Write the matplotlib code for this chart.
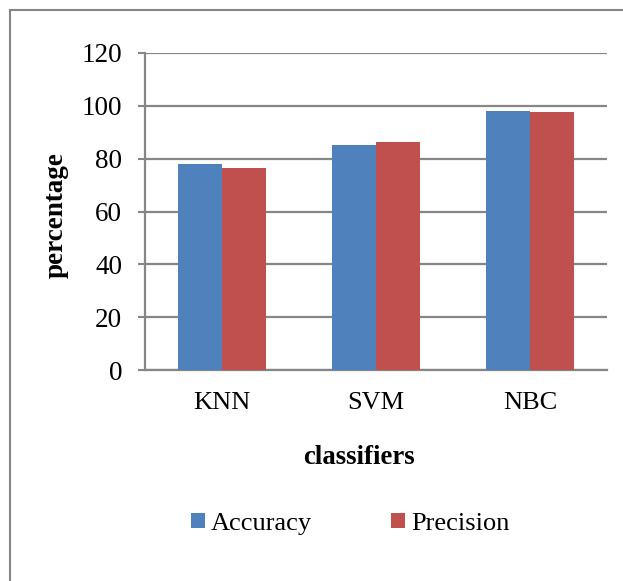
import matplotlib
matplotlib.use("Agg")
import matplotlib.pyplot as plt
from matplotlib.patches import Rectangle
import numpy as np

classifiers = ["KNN", "SVM", "NBC"]
accuracy = [78.1, 85.3, 98.0]
precision = [76.3, 86.4, 97.5]
yticks = [0, 20, 40, 60, 80, 100, 120]

plt.rcParams['font.family'] = ['Liberation Serif', 'DejaVu Serif']
grey = '#868686'

W, H = 623, 581
fig = plt.figure(figsize=(W / 100, H / 100), dpi=100)
ax = fig.add_axes([145 / W, 1 - 370 / H, 462 / W, 317 / H])

x = np.arange(len(classifiers))
w = 1 / 3.5
ax.bar(x - w / 2, accuracy, w, color='#4F81BD', label='Accuracy', zorder=3)
ax.bar(x + w / 2, precision, w, color='#C0504D', label='Precision', zorder=3)

ax.set_xlim(-0.5, 2.5)
ax.set_ylim(0, 120)
ax.set_yticks(yticks)
ax.set_xticks(x)
ax.set_xticklabels(classifiers)
ax.yaxis.grid(True, color=grey, lw=1.6, zorder=0)
ax.tick_params(axis='y', length=5, width=1.5, color=grey, pad=11.5, labelsize=19.5)
ax.tick_params(axis='x', length=0, pad=16, labelsize=19)
for s in ['top', 'right']:
    ax.spines[s].set_visible(False)
for s in ['left', 'bottom']:
    ax.spines[s].set_color(grey)
    ax.spines[s].set_linewidth(1.6)

ax.set_ylabel('percentage', fontsize=19.5, fontweight='bold')
ax.yaxis.set_label_coords((69 - 145) / 462, 0.49)
fig.text(359 / W, 1 - 464 / H, 'classifiers', fontsize=19.3, fontweight='bold',
         ha='center', va='baseline')

fig.legend(loc='center', bbox_to_anchor=(350 / W, 1 - 524 / H), ncol=2,
           frameon=False, fontsize=19, handlelength=0.53, handleheight=0.53,
           handletextpad=0.23, columnspacing=3.0)

fig.patches.append(Rectangle((9.5 / W, -0.1), 1.2, 1 - 9.5 / H + 0.1,
                             transform=fig.transFigure, fill=False,
                             edgecolor=grey, lw=1.5))

fig.savefig('out.png', dpi=100)
